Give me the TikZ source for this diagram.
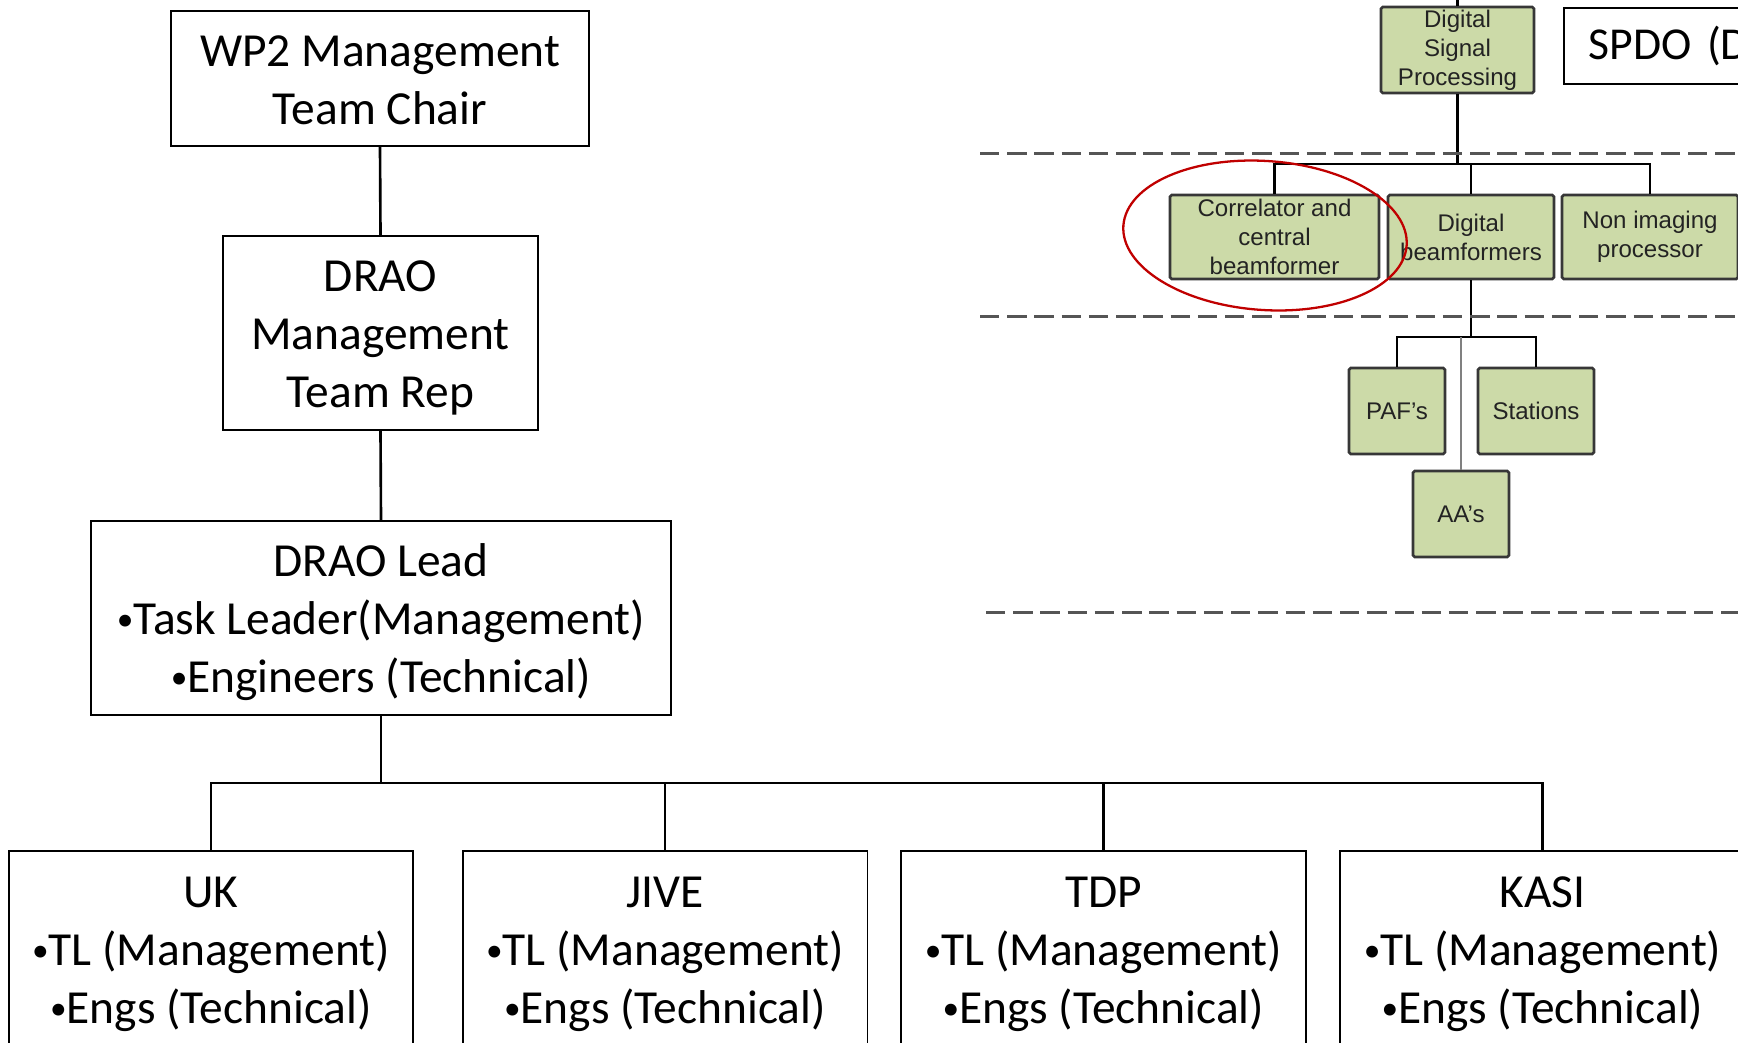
\documentclass[tikz,border=0pt]{standalone}
\usepackage{fontspec}
\setmainfont{Carlito}
\newfontfamily\arialfont{Liberation Sans}
\usetikzlibrary{positioning}
\definecolor{boxgreen}{RGB}{204,218,168}
\definecolor{gboxline}{RGB}{55,55,55}
\definecolor{gtext}{RGB}{35,35,35}
\definecolor{sepgray}{RGB}{85,85,85}
\definecolor{ringred}{RGB}{192,0,0}
\newcommand{\bul}{{\fontsize{19}{19}\selectfont\raisebox{2.3pt}{•}}}
\newcommand{\lift}{\rule{0pt}{23pt}}

\begin{document}
\begin{tikzpicture}[
  x=0.02cm, y=-0.02cm,
  font=\fontsize{27}{33}\selectfont,
  mbox/.style={draw, rectangle, line width=1.1pt, align=center, inner sep=2pt},
  tbox/.style={mbox, minimum width=8.1cm, minimum height=3.92cm},
  gbox/.style={draw=gboxline, fill=boxgreen, line width=1.5pt, align=center,
               inner sep=1pt, text=gtext, rounded corners=1pt,
               font=\arialfont\fontsize{13.7}{16.5}\selectfont},
  link/.style={line width=1.5pt},
  glink/.style={line width=1.2pt},
  sepline/.style={line width=1.7pt, draw=sepgray, dash pattern=on 11pt off 4.5pt}
]
\useasboundingbox (0,0) rectangle (1738,1042);
\clip (0,0) rectangle (1738,1042);

% Management chain
\node[mbox, minimum width=8.36cm, minimum height=2.7cm] (chair) at (380,78.5)
  {\rule{0pt}{20pt}WP2 Management\\Team Chair};
\node[mbox, minimum width=6.3cm, minimum height=3.88cm] (rep) at (380.5,333)
  {\lift DRAO\\Management\\Team Rep};
\node[mbox, minimum width=11.6cm, minimum height=3.88cm] (lead) at (381,618)
  {\lift DRAO Lead\\\bul Task Leader(Management)\\\bul Engineers (Technical)};
\draw[link] (chair.south) -- (rep.north);
\draw[link] (rep.south) -- (lead.north);

% Partner boxes
\coordinate (bus) at (381,783);
\foreach \n/\x/\lab in {uk/211/UK,jive/665/JIVE,tdp/1103.5/TDP,kasi/1542.5/KASI}{
  \node[tbox] (\n) at (\x,949) {\lift\lab\\\bul TL (Management)\\\bul Engs (Technical)};
}
\draw[link] (lead.south) -- (bus);
\draw[link] (uk.north) |- (bus) -| (kasi.north);
\draw[link] (jive.north) -- (jive.north |- bus);
\draw[link] (tdp.north) -- (tdp.north |- bus);

% Signal processing tree
\node[gbox, minimum width=3.06cm, minimum height=1.72cm] (dsp) at (1457.5,50)
  {Digital\\Signal\\Processing};
\coordinate (dspin) at (1457.5,-10);
\draw[glink] (dspin) -- (dsp.north);
\node[draw, line width=1.1pt, anchor=west, minimum width=5cm, minimum height=1.52cm,
      inner xsep=0.38cm, text width=4cm, align=left, font=\fontsize{26}{31}\selectfont]
  (spdo) at (1563,46) {SPDO (D};

\node[gbox, minimum width=4.18cm, minimum height=1.68cm] (corr) at (1274.5,237)
  {Correlator and\\central\\beamformer};
\node[gbox, minimum width=3.32cm, minimum height=1.68cm] (dbf) at (1471,237)
  {Digital\\beamformers};
\node[gbox, minimum width=3.52cm, minimum height=1.68cm] (nip) at (1650,237)
  {Non imaging\\processor};
\coordinate (gbus) at (1457.5,164);
\draw[glink] (dsp.south) -- (gbus);
\draw[glink] (corr.north) |- (gbus) -| (nip.north);
\draw[glink] (dbf.north) -- (dbf.north |- gbus);

\node[gbox, minimum width=1.92cm, minimum height=1.72cm] (paf) at (1397,411) {PAF’s};
\node[gbox, minimum width=2.32cm, minimum height=1.72cm] (stn) at (1536,411) {Stations};
\node[gbox, minimum width=1.92cm, minimum height=1.72cm] (aa) at (1461,514) {AA’s};
\coordinate (sbus) at (1471,337);
\draw[glink] (dbf.south) -- (sbus);
\draw[glink] (paf.north) |- (sbus) -| (stn.north);
\draw[glink, draw=gray] (aa.north) -- (aa.north |- sbus);

% Level separators
\draw[sepline] (980,153) -- (1760,153);
\draw[sepline] (980,316) -- (1760,316);
\draw[sepline] (986,612) -- (1760,612);

% Highlight
\draw[ringred, line width=1.3pt, rotate around={-4:(1265,235.5)}]
  (1265,235.5) ellipse [x radius=2.84cm, y radius=1.49cm];
\end{tikzpicture}
\end{document}
